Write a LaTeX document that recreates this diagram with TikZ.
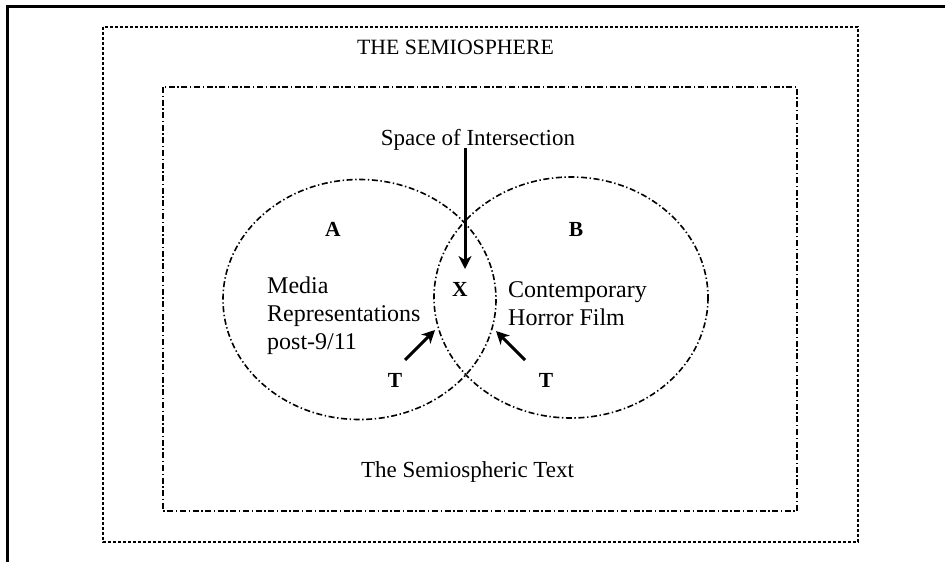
\documentclass[tikz,border=0pt]{standalone}
\usepackage{fontspec}
\setmainfont{Liberation Serif}
\usetikzlibrary{arrows.meta}
\begin{document}
\begin{tikzpicture}[x=1pt,y=-1pt,
  frameline/.style={line width=2.4pt},
  outerbox/.style={line width=1.8pt, dash pattern=on 3.4pt off 1.6pt},
  dashdot/.style={line width=1.6pt, dash pattern=on 6pt off 2.6pt on 1.4pt off 2.6pt},
  lbl/.style={font=\fontsize{23}{28}\selectfont, inner sep=0pt, anchor=base},
  body/.style={font=\fontsize{24}{28}\selectfont, inner sep=0pt, align=left, anchor=north west},
  letter/.style={font=\fontsize{21.5}{25}\selectfont\bfseries, inner sep=0pt, anchor=base},
  arr/.style={line width=3pt, -{Stealth[length=13pt,width=13pt,inset=4pt]}},
]
\useasboundingbox (0,0) rectangle (945,562);
% page frame (cropped)
\draw[frameline] (7.5,562) -- (7.5,6.5) -- (945,6.5);
% boxes
\draw[outerbox] (103,27) rectangle (858,542);
\draw[dashdot] (163,87) rectangle (797,511);
% circles
\draw[dashdot] (359.5,299.5) ellipse [x radius=136.5, y radius=120];
\draw[dashdot] (571,297.5) ellipse [x radius=137, y radius=120.5];
% texts
\node[lbl, font=\fontsize{21.8}{26}\selectfont] (title) at (455.5,54) {THE SEMIOSPHERE};
\node[lbl] (sp) at (478,145) {Space of Intersection};
\node[lbl] (st) at (467.5,477) {The Semiospheric Text};
\node[letter] (A) at (333,236) {A};
\node[letter] (B) at (576,236) {B};
\node[letter] (X) at (460,296) {X};
\node[letter] (T1) at (395,387) {T};
\node[letter] (T2) at (546,387) {T};
\node[body] (media) at (267,277) {Media\\Representations\\post-9/11};
\node[body] (cont) at (508,281) {Contemporary\\Horror Film};
% arrows
\coordinate (xtail) at (465,148);
\coordinate (xhead) at (465,269);
\draw[arr] (xtail) -- (xhead);
\coordinate (t1tail) at (405,360);
\coordinate (t1head) at (435,330);
\draw[arr] (t1tail) -- (t1head);
\coordinate (t2tail) at (525,360);
\coordinate (t2head) at (496,331);
\draw[arr] (t2tail) -- (t2head);
\end{tikzpicture}
\end{document}
